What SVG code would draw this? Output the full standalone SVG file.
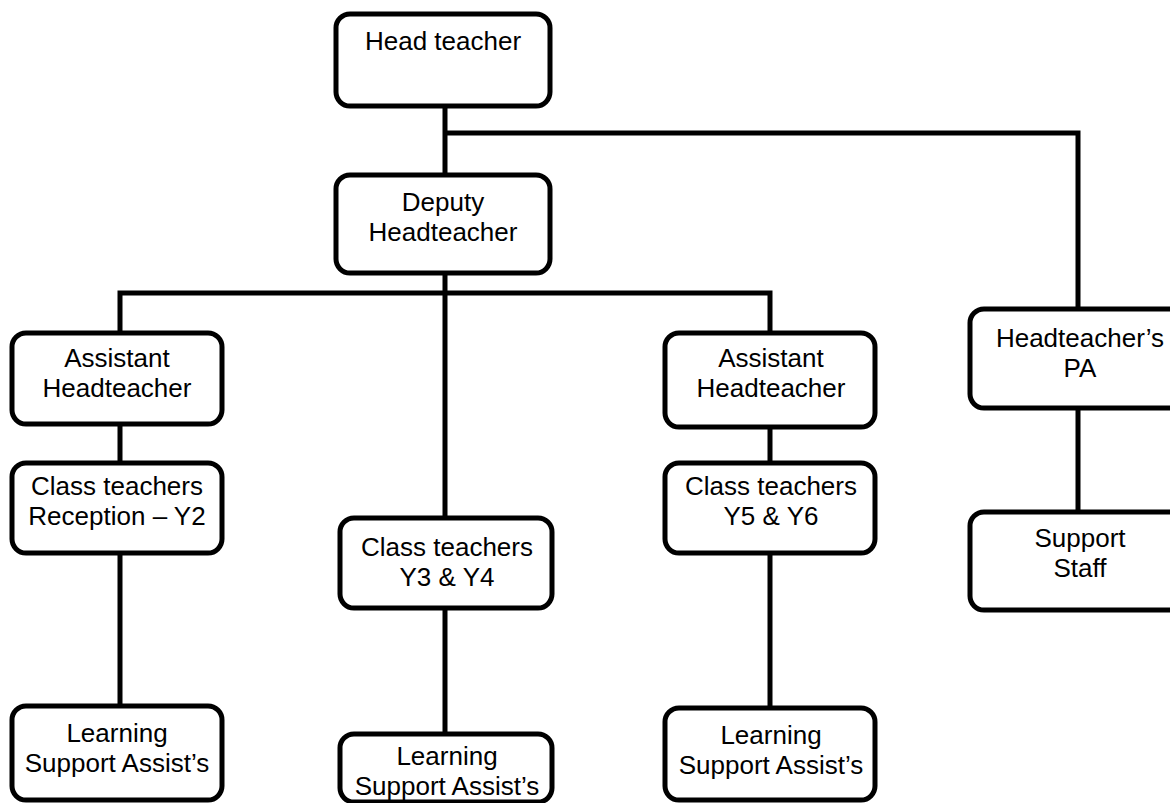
<svg xmlns="http://www.w3.org/2000/svg" width="1170" height="803" viewBox="0 0 1170 803">
<style>
.box{fill:#fff;stroke:#000;stroke-width:5}
.ln{stroke:#000;stroke-width:5;fill:none;stroke-linecap:square}
text{font-family:"Liberation Sans",Arial,sans-serif;font-size:26px;fill:#000;text-anchor:middle}
</style>
<rect width="1170" height="803" fill="#fff"/>
<g id="connectors">
<path class="ln" d="M445 106V175M445 133H1078V309M445 273V518M120 293H770M120 293V333M770 293V333M120 424V463M770 427V463M120 553V706M770 553V708M445 608V734M1078 408V512"/>
</g>
<g id="head"><rect class="box" x="336" y="14" width="214" height="92" rx="14"/><text x="443" y="50">Head teacher</text></g>
<g id="deputy"><rect class="box" x="336" y="175" width="214" height="98" rx="14"/><text x="443" y="211">Deputy</text><text x="443" y="241">Headteacher</text></g>
<g id="asst-left"><rect class="box" x="12" y="333" width="210" height="91" rx="14"/><text x="117" y="367">Assistant</text><text x="117" y="397">Headteacher</text></g>
<g id="asst-right"><rect class="box" x="665" y="333" width="210" height="94" rx="14"/><text x="771" y="367">Assistant</text><text x="771" y="397">Headteacher</text></g>
<g id="pa"><rect class="box" x="970" y="309" width="215" height="99" rx="14"/><text x="1080" y="347">Headteacher’s</text><text x="1080" y="377">PA</text></g>
<g id="class-left"><rect class="box" x="12" y="463" width="210" height="90" rx="14"/><text x="117" y="495">Class teachers</text><text x="117" y="525">Reception – Y2</text></g>
<g id="class-mid"><rect class="box" x="340" y="518" width="212" height="90" rx="14"/><text x="447" y="556">Class teachers</text><text x="447" y="586">Y3 &amp; Y4</text></g>
<g id="class-right"><rect class="box" x="665" y="463" width="210" height="90" rx="14"/><text x="771" y="495">Class teachers</text><text x="771" y="525">Y5 &amp; Y6</text></g>
<g id="support-staff"><rect class="box" x="970" y="512" width="215" height="98" rx="14"/><text x="1080" y="547">Support</text><text x="1080" y="577">Staff</text></g>
<g id="lsa-left"><rect class="box" x="12" y="706" width="210" height="94" rx="14"/><text x="117" y="742">Learning</text><text x="117" y="772">Support Assist’s</text></g>
<g id="lsa-mid"><rect class="box" x="340" y="734" width="212" height="68" rx="14"/><text x="447" y="765">Learning</text><text x="447" y="795">Support Assist’s</text></g>
<g id="lsa-right"><rect class="box" x="665" y="708" width="210" height="92" rx="14"/><text x="771" y="744">Learning</text><text x="771" y="774">Support Assist’s</text></g>
</svg>
